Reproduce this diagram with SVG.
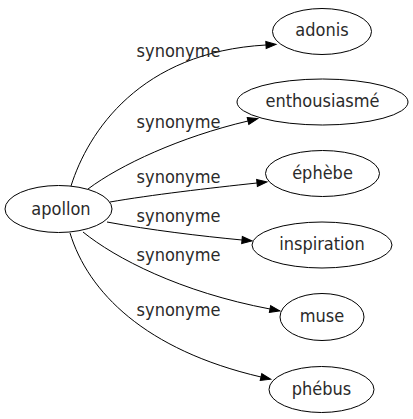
<svg xmlns="http://www.w3.org/2000/svg" width="413" height="419" viewBox="0 0 413 419">
<style>
.node ellipse{fill:#fff;stroke:#000;stroke-width:1}
.node text,.lbl{font-family:"DejaVu Sans Condensed","DejaVu Sans",sans-serif;font-stretch:condensed;font-size:18px;fill:#2a2a2a;text-anchor:middle}
.edge path{fill:none;stroke:#000;stroke-width:1}
</style>
<defs>
<marker id="ah" markerUnits="userSpaceOnUse" markerWidth="11" markerHeight="8" refX="0" refY="3.5" orient="auto" overflow="visible">
<path d="M0,0 L10,3.5 L0,7 z" fill="#000" stroke="#000" stroke-width="1"/>
</marker>
</defs>
<rect width="413" height="419" fill="#fff"/>
<g id="edges">
<g class="edge"><path d="M71,186 C88,132 140,52 266,45" marker-end="url(#ah)"/><text class="lbl" x="178.5" y="57">synonyme</text></g>
<g class="edge"><path d="M88,189 C120,165 180,137 248,121" marker-end="url(#ah)"/><text class="lbl" x="178.5" y="128">synonyme</text></g>
<g class="edge"><path d="M110,202 C150,195 210,188 257,183" marker-end="url(#ah)"/><text class="lbl" x="178.5" y="183">synonyme</text></g>
<g class="edge"><path d="M107,222 C150,230 200,236 242,240" marker-end="url(#ah)"/><text class="lbl" x="178.5" y="222">synonyme</text></g>
<g class="edge"><path d="M83,232 C115,258 180,292 270,309" marker-end="url(#ah)"/><text class="lbl" x="178.5" y="261">synonyme</text></g>
<g class="edge"><path d="M70,233 C88,292 145,350 261,377" marker-end="url(#ah)"/><text class="lbl" x="178.5" y="316">synonyme</text></g>
</g>
<g id="apollon" class="node"><ellipse cx="58.5" cy="209" rx="53.5" ry="23.5"/><text x="61" y="214.5">apollon</text></g>
<g id="adonis" class="node"><ellipse cx="322" cy="31.5" rx="49.5" ry="23"/><text x="322" y="36">adonis</text></g>
<g id="enthousiasme" class="node"><ellipse cx="322.5" cy="102" rx="85.5" ry="23"/><text x="322.5" y="107">enthousiasmé</text></g>
<g id="ephebe" class="node"><ellipse cx="322.5" cy="173.5" rx="57" ry="23"/><text x="322.5" y="178.5">éphèbe</text></g>
<g id="inspiration" class="node"><ellipse cx="322" cy="245" rx="70" ry="23"/><text x="322" y="250">inspiration</text></g>
<g id="muse" class="node"><ellipse cx="322" cy="317" rx="42" ry="23.5"/><text x="322" y="322">muse</text></g>
<g id="phebus" class="node"><ellipse cx="321.5" cy="389.5" rx="52.5" ry="23"/><text x="321.5" y="395">phébus</text></g>
</svg>
